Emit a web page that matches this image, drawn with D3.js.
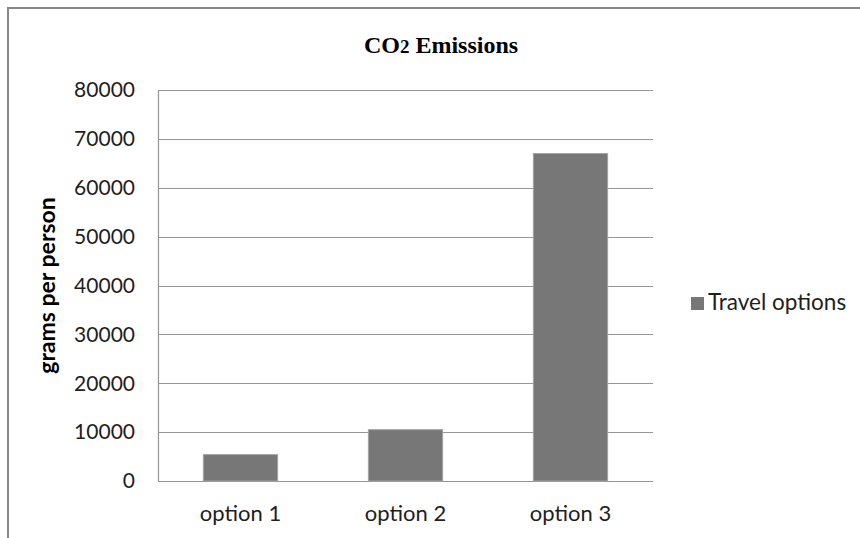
<!DOCTYPE html>
<html>
<head>
<meta charset="utf-8">
<script src="https://cdn.jsdelivr.net/npm/d3@7/dist/d3.min.js"></script>
<style>
  html, body { margin: 0; padding: 0; background: #fff; }
  svg { display: block; }
</style>
</head>
<body>
<svg id="chart" width="860" height="538"></svg>
<script>
// ---- data ----
const categories = ["option 1", "option 2", "option 3"];
const values = [5400, 10500, 67000];
const seriesName = "Travel options";
const yTicks = [0, 10000, 20000, 30000, 40000, 50000, 60000, 70000, 80000];
const title = "CO2 Emissions";
const yTitle = "grams per person";

// ---- layout ----
const W = 860, H = 538;
const plot = { left: 158, right: 653, top: 90, bottom: 481 };
const svg = d3.select("#chart");
const sans = "Lato, 'Open Sans', sans-serif";

// outer chart border
svg.append("rect")
  .attr("x", 8).attr("y", 8)
  .attr("width", W + 20).attr("height", H + 20)
  .attr("fill", "#fff")
  .attr("stroke", "#878787").attr("stroke-width", 2);

const x = d3.scaleBand().domain(categories).range([plot.left, plot.right]).padding(0);
const y = d3.scaleLinear().domain([0, 80000]).range([plot.bottom, plot.top]);

// gridlines
svg.append("g").selectAll("line").data(yTicks).join("line")
  .attr("x1", plot.left).attr("x2", plot.right)
  .attr("y1", d => Math.round(y(d)) + 0.5).attr("y2", d => Math.round(y(d)) + 0.5)
  .attr("stroke", "#969696").attr("stroke-width", 1.2);

// left axis line
svg.append("line")
  .attr("x1", plot.left + 0.5).attr("x2", plot.left + 0.5)
  .attr("y1", plot.top).attr("y2", Math.round(plot.bottom) + 0.5)
  .attr("stroke", "#969696").attr("stroke-width", 1.2);

// bars
const barW = x.bandwidth() * 0.45;
svg.append("g").selectAll("rect").data(values).join("rect")
  .attr("x", (d, i) => x(categories[i]) + (x.bandwidth() - barW) / 2)
  .attr("width", barW)
  .attr("y", d => y(d))
  .attr("height", d => y(0) - y(d))
  .attr("fill", "#777777")
  .attr("stroke", "#a3a3a3").attr("stroke-width", 1);

// y tick labels
svg.append("g").selectAll("text").data(yTicks).join("text")
  .attr("x", 135).attr("y", d => y(d))
  .attr("dy", "0.35em")
  .attr("text-anchor", "end")
  .attr("font-family", sans).attr("font-size", 21)
  .attr("fill", "#1e1e1e")
  .text(d => d);

// x labels
svg.append("g").selectAll("text").data(categories).join("text")
  .attr("x", d => x(d) + x.bandwidth() / 2).attr("y", 521)
  .attr("text-anchor", "middle")
  .attr("font-family", sans).attr("font-size", 22)
  .attr("fill", "#1e1e1e")
  .text(d => d);

// title
const t = svg.append("text")
  .attr("x", 441).attr("y", 53)
  .attr("text-anchor", "middle")
  .attr("font-family", "'Liberation Serif', 'Times New Roman', serif")
  .attr("font-weight", "bold").attr("font-size", 24)
  .attr("fill", "#000");
t.append("tspan").text("CO");
t.append("tspan").attr("font-size", 19).text("2");
t.append("tspan").text(" Emissions");

// y axis title
svg.append("text")
  .attr("transform", `translate(55,${(plot.top + plot.bottom) / 2}) rotate(-90)`)
  .attr("text-anchor", "middle")
  .attr("font-family", sans).attr("font-weight", "bold").attr("font-size", 23)
  .attr("fill", "#000")
  .text(yTitle);

// legend
const lg = svg.append("g").attr("transform", "translate(691,297)");
lg.append("rect").attr("width", 13).attr("height", 13).attr("fill", "#777777");
lg.append("text").attr("x", 17).attr("y", 13)
  .attr("font-family", sans).attr("font-size", 22.5)
  .attr("fill", "#1e1e1e")
  .text(seriesName);
</script>
</body>
</html>
